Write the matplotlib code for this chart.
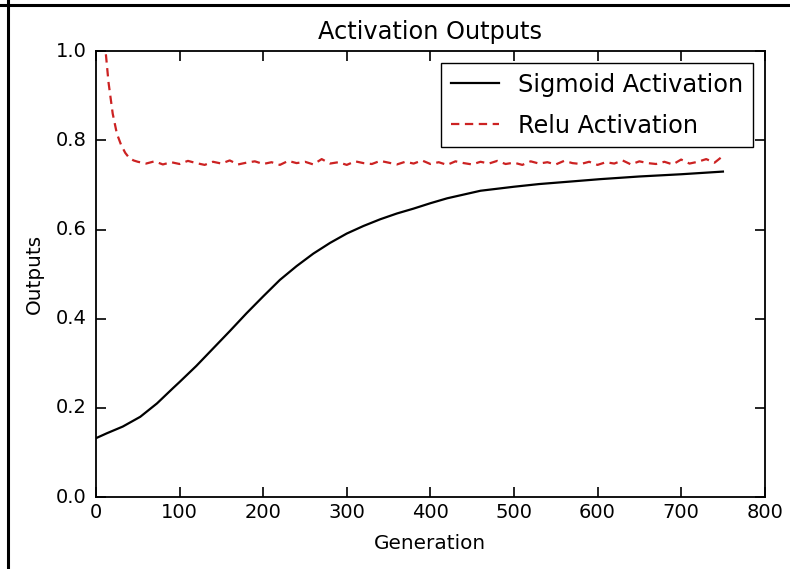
import numpy as np
import matplotlib
matplotlib.use('Agg')
import matplotlib.pyplot as plt
from matplotlib.lines import Line2D

plt.style.use('classic')

# ================================
# average outputs per generation

sig_gen = [0, 13, 32, 53, 73, 92, 100, 120, 140, 160, 180, 200, 220, 240,
           260, 280, 300, 320, 340, 360, 380, 400, 420, 460, 500, 530, 570,
           603, 650, 700, 750]
sig_out = [0.132, 0.143, 0.158, 0.180, 0.210, 0.244, 0.258, 0.294, 0.333,
           0.372, 0.412, 0.450, 0.487, 0.518, 0.546, 0.570, 0.591, 0.608,
           0.623, 0.636, 0.647, 0.659, 0.670, 0.687, 0.696, 0.702, 0.708,
           0.713, 0.719, 0.724, 0.730]

relu_gen = [0, 5, 10, 15, 20, 25, 30, 35, 40, 45] + list(range(50, 751, 10))
relu_out = [1.25, 1.12, 1.03, 0.93, 0.86, 0.815, 0.790, 0.772, 0.760, 0.755,
            0.752, 0.748, 0.753, 0.746, 0.751, 0.747, 0.754, 0.749, 0.745, 0.752,
            0.748, 0.755, 0.746, 0.750, 0.753, 0.747, 0.751, 0.745, 0.754, 0.749,
            0.752, 0.746, 0.758, 0.748, 0.751, 0.745, 0.753, 0.749, 0.747, 0.754,
            0.750, 0.746, 0.752, 0.748, 0.755, 0.747, 0.751, 0.745, 0.753, 0.749,
            0.746, 0.752, 0.748, 0.754, 0.747, 0.750, 0.745, 0.753, 0.748, 0.751,
            0.746, 0.754, 0.749, 0.747, 0.752, 0.745, 0.751, 0.748, 0.755, 0.746,
            0.753, 0.749, 0.747, 0.752, 0.746, 0.757, 0.748, 0.752, 0.758, 0.750,
            0.765]

# ================================
# plot

fig = plt.figure(figsize=(7.9, 5.69), dpi=100, facecolor='white')
ax = fig.add_axes([0.1215, 0.1265, 0.8465, 0.7835])

ax.plot(sig_gen, sig_out, 'k-', lw=1.6, label='Sigmoid Activation')
ax.plot(relu_gen, relu_out, '--', color='#cc2222', lw=1.6, dashes=(6, 4),
        label='Relu Activation')

ax.set_xlim(0, 800)
ax.set_ylim(0, 1.0)
ax.set_xticks(np.arange(0, 801, 100))
ax.set_yticks(np.arange(0, 1.01, 0.2))
ax.tick_params(labelsize=14, length=7, width=1.2, direction='in')
ax.tick_params(axis='y', pad=7)
for s in ax.spines.values():
    s.set_linewidth(1.3)

ax.set_title('Activation Outputs', fontsize=17.3, pad=9)
ax.set_xlabel('Generation', fontsize=14.4, labelpad=9)
ax.set_ylabel('Outputs', fontsize=14.4, labelpad=8)
ax.legend(loc='upper right', fontsize=17.3, fancybox=False, numpoints=1,
          handlelength=2.0, borderaxespad=0.5, labelspacing=0.7)

# frame edges along the left and top of the picture
fig.add_artist(Line2D([0.0095, 0.0095], [0, 1], color='black', lw=2.2, transform=fig.transFigure))
fig.add_artist(Line2D([0, 1], [0.991, 0.991], color='black', lw=2.2, transform=fig.transFigure))

plt.savefig('out.png', dpi=100, facecolor='white')
